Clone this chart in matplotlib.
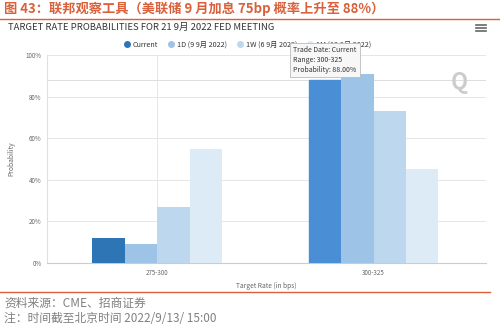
import matplotlib
matplotlib.use("Agg")
import matplotlib.pyplot as plt
from matplotlib.lines import Line2D
import numpy as np

plt.rcParams['font.family'] = ['Noto Sans CJK SC', 'DejaVu Sans']

# rate buckets and probabilities (%) per snapshot
ranges = ["275-300", "300-325"]
series = ["Current", "1D (9 9月 2022)", "1W (6 9月 2022)", "1M (12 8月 2022)"]
current = [12, 88]
one_day = [9, 91]
one_week = [27, 73]
one_month = [55, 45]
yticks = [0, 20, 40, 60, 80, 100]

colors = ["#2e75b6", "#9dc3e6", "#bdd7ee", "#ddebf7"]
hover_color = "#4a8fd6"

W, H = 500, 327
fig = plt.figure(figsize=(W / 100, H / 100), dpi=100)

def fx(px):
    return px / W

def fy(py):
    return 1 - py / H

# report header
fig.text(fx(4), fy(9), "图 43：联邦观察工具（美联储 9 月加息 75bp 概率上升至 88%）",
         fontsize=9.5, fontweight="bold", color="#d9603b", va="center", ha="left")
fig.add_artist(Line2D([0, 1], [fy(19), fy(19)], color="#d9603b", lw=1.0))

fig.text(fx(8), fy(27), "TARGET RATE PROBABILITIES FOR 21 9月 2022 FED MEETING",
         fontsize=6.8, color="#333333", va="center", ha="left")

# menu icon
for yy in (25, 28, 31):
    fig.add_artist(Line2D([fx(476), fx(486)], [fy(yy), fy(yy)], color="#666666", lw=1.2))

ax = fig.add_axes([fx(47), fy(263), fx(486) - fx(47), fy(55) - fy(263)])

x = np.arange(len(ranges))
bw = 0.15
data = [current, one_day, one_week, one_month]
for i, (vals, c) in enumerate(zip(data, colors)):
    offs = (i - 1.5) * bw
    bars = ax.bar(x + offs, vals, width=bw, color=c, zorder=3, label=series[i])
    if i == 0:
        bars[1].set_color(hover_color)

ax.set_xlim(-0.51, 1.52)
ax.set_ylim(0, 100)
ax.set_yticks(yticks)
ax.set_yticklabels([f"{v}%" for v in yticks])
ax.set_xticks(x)
ax.set_xticklabels(ranges)
ax.tick_params(length=0, labelsize=4.5, colors="#666666", pad=4)
ax.grid(axis="y", color="#e6e6e6", lw=0.7, zorder=0)
ax.axvline(0, color="#e6e6e6", lw=0.7, zorder=0)
ax.axhline(current[1], color="#dddddd", lw=0.7, zorder=1)
for s in ("top", "right"):
    ax.spines[s].set_visible(False)
ax.spines["left"].set_color("#e0e0e0")
ax.spines["bottom"].set_color("#cccccc")
ax.spines["left"].set_linewidth(0.8)
ax.spines["bottom"].set_linewidth(0.8)

ax.set_xlabel("Target Rate (in bps)", fontsize=4.8, color="#666666", labelpad=4)
ax.set_ylabel("Probability", fontsize=4.8, color="#666666", labelpad=7)

# watermark
ax.text(0.94, 0.87, "Q", transform=ax.transAxes, fontsize=16, fontweight="bold",
        color="#cccccc", ha="center", va="center", zorder=2)

handles = [Line2D([], [], marker="o", ls="", color=c, markersize=4) for c in colors]
fig.legend(handles, series, loc="center", bbox_to_anchor=(fx(247), fy(45)), ncol=4,
           frameon=False, fontsize=5.2, labelcolor="#333333", handletextpad=0.3,
           columnspacing=1.3, handlelength=1.0)

# hover tooltip
fig.text(fx(293), fy(60), "Trade Date: Current\nRange: 300-325\nProbability: 88.00%",
         fontsize=5, color="#333333", va="center", ha="left", linespacing=1.3, zorder=10,
         bbox=dict(boxstyle="square,pad=0.5", fc="#f7f7f7", ec="#bbbbbb", lw=0.6))

fig.add_artist(Line2D([0, fx(490)], [fy(292), fy(292)], color="#d9603b", lw=1.0))
fig.text(fx(4), fy(303), "资料来源：CME、招商证券", fontsize=8.5, color="#808080",
         va="center", ha="left")
fig.text(fx(4), fy(318), "注：时间截至北京时间 2022/9/13/ 15:00", fontsize=8.5,
         color="#808080", va="center", ha="left")

fig.savefig("out.png", dpi=100)
